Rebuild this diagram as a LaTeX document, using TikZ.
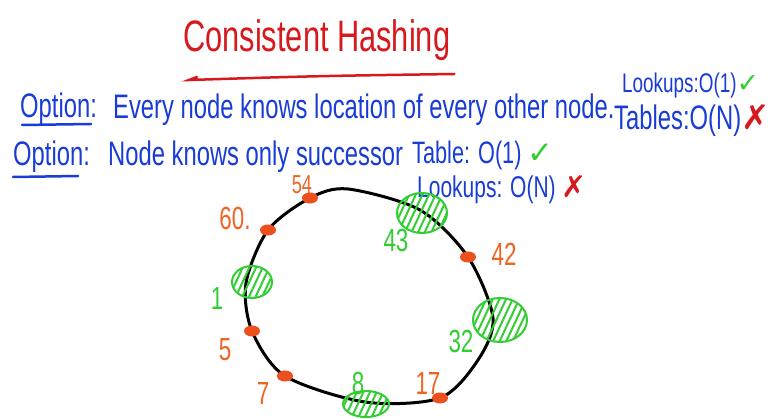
\documentclass[tikz,border=0pt]{standalone}
\usepackage{fontspec}
\usepackage{xcolor}
\usepackage{tikz}
\usetikzlibrary{shapes.geometric,patterns.meta,calc}
\newfontfamily\handfont[FakeStretch=0.7]{Liberation Sans}
\newfontfamily\symfont{DejaVu Sans}
\definecolor{blueink}{RGB}{25,60,215}
\definecolor{redink}{RGB}{215,25,30}
\definecolor{orangeink}{RGB}{240,100,35}
\definecolor{greenink}{RGB}{50,205,50}
\definecolor{dotred}{RGB}{235,80,30}
\newcommand{\yes}{\textcolor{greenink}{\symfont ✓}}
\newcommand{\no}{\textcolor{redink}{\symfont ✗}}

\begin{document}
\begin{tikzpicture}[x=1pt, y=-1pt,
      ink/.style={inner sep=0pt, anchor=base west},
      title/.style={ink, text=redink, font=\handfont\fontsize{44}{48}\selectfont},
      note/.style={ink, text=blueink, font=\handfont\fontsize{34}{38}\selectfont},
      smallnote/.style={note, font=\handfont\fontsize{27}{30}\selectfont},
      keylbl/.style={inner sep=0pt, font=\handfont\fontsize{32}{34}\selectfont},
      srvlbl/.style={keylbl, text=orangeink},
      objlbl/.style={keylbl, text=greenink},
      srvdot/.style={ellipse, fill=dotred, minimum width=16pt, minimum height=11pt, inner sep=0pt},
      keyblob/.style={ellipse, draw=greenink, line width=2pt, minimum width=44pt, minimum height=36pt,
                      pattern={Lines[angle=65, distance=6pt, line width=2pt]}, pattern color=greenink},
      ring/.style={line width=3pt, line join=round},
      uline/.style={blueink, line width=2.5pt, line cap=round},
    ]
    \useasboundingbox[fill=white] (0,0) rectangle (780,419);

    % Title
    \node[title] (title) at (183,52) {Consistent Hashing};
    \draw[redink, line width=2.5pt, line cap=round]
      ($(title.base east)+(4,22)$) .. controls ($(title.base)+(0,24)$) .. ($(title.base west)+(6,28)$)
      -- ++(8,-3);

    % Option 1: full table
    \node[note] (opt1) at (20,118) {Option:};
    \node[note] (full) at (113,119) {Every node knows location of every other node.};
    \draw[uline] ($(opt1.base west)+(2,7)$) -- ($(opt1.base east)+(-6,6)$);
    \node[smallnote] (look1) at (622,93) {Lookups:O(1)\yes};
    \node[note] (tab1) at (614,130) {Tables:O(N)\no};

    % Option 2: successor only
    \node[note] (opt2) at (13,166) {Option:};
    \node[note] (succ) at (108,166) {Node knows only successor};
    \draw[uline] ($(opt2.base west)+(0,11)$) -- ($(opt2.base east)+(-12,10)$);
    \node[note, font=\handfont\fontsize{31}{34}\selectfont] (tab2) at (412,164) {Table: O(1) \yes};
    \node[note, font=\handfont\fontsize{30}{34}\selectfont] (look2) at (417,198) {Lookups: O(N) \no};

    % Ring
    \coordinate (r54) at (310,198);
    \coordinate (rtop) at (348,189);
    \coordinate (r43) at (420,210);
    \coordinate (r42) at (468,257);
    \coordinate (r32) at (493,318);
    \coordinate (rse) at (478,360);
    \coordinate (r17) at (440,398);
    \coordinate (r8) at (365,402);
    \coordinate (r7) at (285,376);
    \coordinate (r5) at (252,331);
    \coordinate (r1) at (246,283);
    \coordinate (r60) at (268,230);
    \draw[ring] plot[smooth cycle] coordinates {(r54) (rtop) (r43) (r42) (r32) (rse) (r17) (r8) (r7) (r5) (r1) (r60)};

    % Servers on the ring
    \node[srvdot] (s54) at (r54) {};
    \node[srvdot] (s60) at (r60) {};
    \node[srvdot] (s42) at (r42) {};
    \node[srvdot] (s5)  at (r5)  {};
    \node[srvdot] (s7)  at (r7)  {};
    \node[srvdot] (s17) at (r17) {};
    \node[srvlbl, font=\handfont\fontsize{26}{28}\selectfont] (l54) at (302,185) {54};
    \node[srvlbl] (l60) at (235,218) {60.};
    \node[srvlbl] (l42) at (504,254) {42};
    \node[srvlbl] (l5)  at (225,350) {5};
    \node[srvlbl] (l7)  at (263,393) {7};
    \node[srvlbl] (l17) at (428,383) {17};

    % Keys on the ring
    \node[keyblob, minimum width=50pt, minimum height=40pt] (k43) at (422,213) {};
    \node[keyblob, minimum width=40pt, minimum height=32pt] (k1) at (252,282) {};
    \node[keyblob, minimum width=54pt, minimum height=44pt] (k32) at (500,320) {};
    \node[keyblob, minimum width=46pt, minimum height=26pt] (k8) at (366,404) {};
    \node[objlbl] (l43) at (396,240) {43};
    \node[objlbl] (l1)  at (217,298) {1};
    \node[objlbl] (l32) at (461,341) {32};
    \node[objlbl] (l8)  at (358,383) {8};

\end{tikzpicture}
\end{document}
